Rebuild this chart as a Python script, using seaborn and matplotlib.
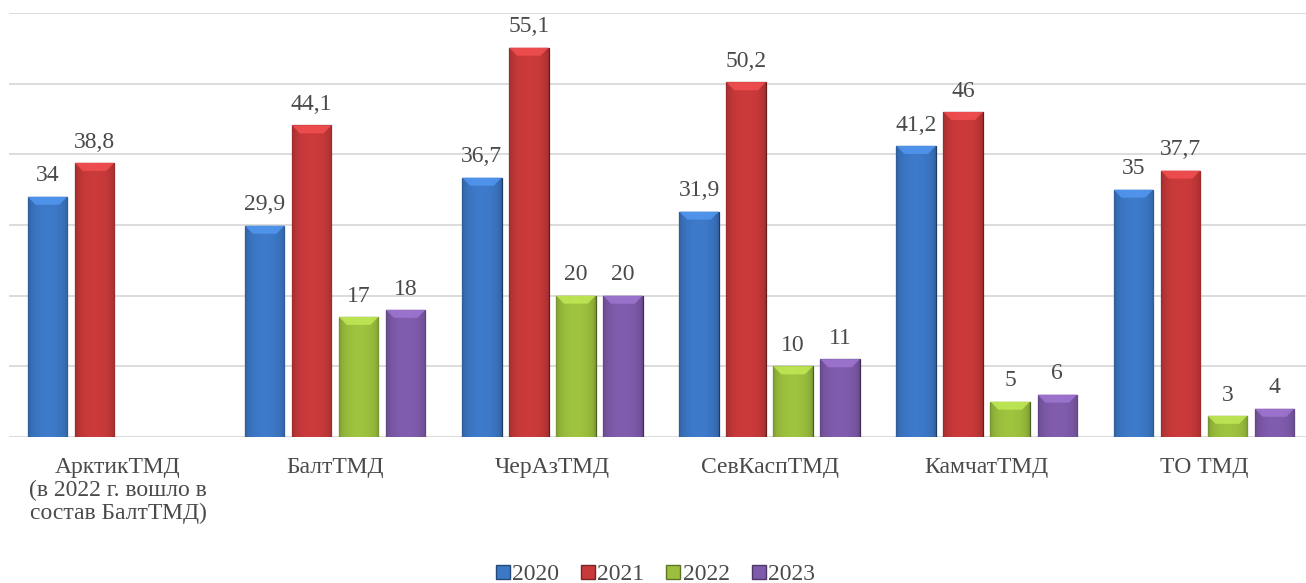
import numpy as np
import pandas as pd
import matplotlib
matplotlib.use("Agg")
import matplotlib.pyplot as plt
import seaborn as sns
from matplotlib.colors import to_rgb
from matplotlib.lines import Line2D
from matplotlib.patches import Polygon

categories = ["АрктикТМД\n(в 2022 г. вошло в\nсостав БалтТМД)", "БалтТМД", "ЧерАзТМД",
              "СевКаспТМД", "КамчатТМД", "ТО ТМД"]
years = ["2020", "2021", "2022", "2023"]
v2020 = [34, 29.9, 36.7, 31.9, 41.2, 35]
v2021 = [38.8, 44.1, 55.1, 50.2, 46, 37.7]
v2022 = [np.nan, 17, 20, 10, 5, 3]
v2023 = [np.nan, 18, 20, 11, 6, 4]
labels2020 = ["34", "29,9", "36,7", "31,9", "41,2", "35"]
labels2021 = ["38,8", "44,1", "55,1", "50,2", "46", "37,7"]
labels2022 = ["", "17", "20", "10", "5", "3"]
labels2023 = ["", "18", "20", "11", "6", "4"]

colors = ["#3c78c6", "#c8393a", "#9cc03e", "#7f5bab"]

rows = []
for vals, y in zip([v2020, v2021, v2022, v2023], years):
    for c, v in zip(categories, vals):
        rows.append({"cat": c, "year": y, "value": v})
df = pd.DataFrame(rows)

sns.set_style("white")
plt.rcParams["font.family"] = ["Liberation Serif", "DejaVu Serif"]

W, H = 1306, 583
fig = plt.figure(figsize=(W / 100, H / 100), dpi=100)
ax = fig.add_axes([9.4 / W, 146 / H, (W - 9.4) / W, 424 / H])

sns.barplot(data=df, x="cat", y="value", hue="year", palette=colors,
            width=0.866, gap=0.16, ax=ax, legend=False, saturation=1)

ax.set_ylim(0, 60)
ax.set_xlim(-0.5, 5.47)
ax.set_yticks(np.arange(0, 61, 10))
ax.yaxis.grid(True, color="#d9d9d9", lw=1.3)
ax.set_axisbelow(True)
ax.set_yticklabels([])
ax.tick_params(left=False, bottom=False)
for s in ax.spines.values():
    s.set_visible(False)
ax.set_xlabel("")
ax.set_ylabel("")
ax.set_xticks(range(len(categories)))
ax.set_xticklabels(categories, fontsize=17, color="#4a4a4a", va="top", linespacing=1.12)
ax.tick_params(axis="x", pad=11)

# shading to imitate the beveled bars
grad = np.linspace(0, 1, 64)
shade = 0.74 + 0.28 * np.sin(np.pi * grad) ** 0.35
px_per_y = 424 / 60
bevel = 8 / px_per_y
all_labels = [labels2020, labels2021, labels2022, labels2023]
for cont, col, labs in zip(ax.containers, colors, all_labels):
    base = np.array(to_rgb(col))
    img = np.clip(base[None, :] * shade[:, None], 0, 1)[None, :, :]
    for p in cont.patches:
        if p is None:
            continue
        h = p.get_height()
        if not np.isfinite(h) or h == 0:
            continue
        x0, w = p.get_x(), p.get_width()
        p.set_edgecolor(tuple(base * 0.5))
        p.set_linewidth(0.9)
        im = ax.imshow(img, extent=[x0, x0 + w, 0, h], aspect="auto",
                       zorder=p.get_zorder() + 0.1, interpolation="bicubic")
        im.set_clip_path(p)
        inset = w * 0.2
        top = Polygon([[x0, h], [x0 + w, h], [x0 + w - inset, h - bevel], [x0 + inset, h - bevel]],
                      closed=True, facecolor=tuple(np.clip(base * 1.15 + 0.06, 0, 1)),
                      edgecolor="none", alpha=0.8, zorder=p.get_zorder() + 0.2)
        ax.add_patch(top)
        idx = int(round(x0 + w / 2))
        ax.annotate(labs[idx], (x0 + w / 2, h), xytext=(0, 11), textcoords="offset points",
                    ha="center", va="baseline", fontsize=17, color="#4a4a4a")

handles = [Line2D([], [], marker="s", ls="", markersize=9.5, markerfacecolor=c,
                  markeredgecolor=tuple(np.array(to_rgb(c)) * 0.6)) for c in colors]
fig.legend(handles, years, loc="lower center", ncol=4, frameon=False,
           bbox_to_anchor=(0.5, -0.04), fontsize=17, handletextpad=-0.1,
           handlelength=1.0, columnspacing=0.72, labelcolor="#4a4a4a")

fig.savefig("out.png", dpi=100)
